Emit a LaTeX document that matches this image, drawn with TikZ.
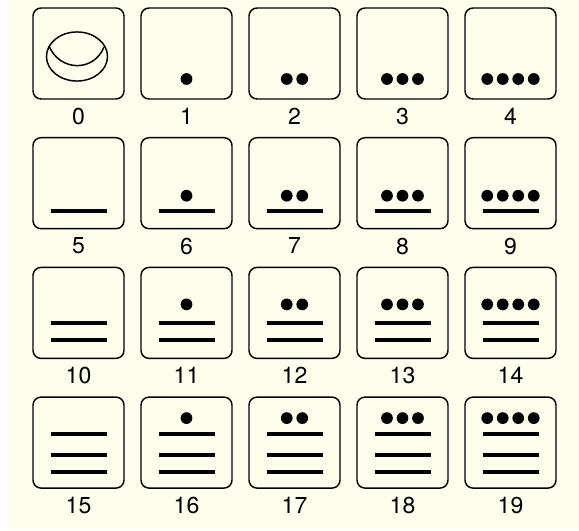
\documentclass[tikz,border=0pt]{standalone}
\usepackage{fontspec}
\setmainfont{TeX Gyre Heros}
\usetikzlibrary{positioning}

\definecolor{cream}{RGB}{255,253,235}

\newcommand*{\colstep}{108}
\newcommand*{\rowstep}{129.7}
\newcommand*{\dotstep}{15.5}

\begin{document}
\begin{tikzpicture}
[
	x=0.75pt, y=-0.75pt,
	numbox/.style={draw,line width=1.1pt,rounded corners=6pt,inner sep=0pt,minimum size=68.25pt},
	numlabel/.style={inner sep=0pt,font=\LARGE},
	bar/.style={line width=3pt},
	pebble/.style={fill=black}
]

	% background
	\useasboundingbox (0,0) rectangle (579,531);
	\fill[cream] (7,0) rectangle (579,529);

	% boxes, labels, bars and dots
	\foreach \r/\dy/\bars in {0/71/{0}, 1/58/{73}, 2/37/{56,73}, 3/21/{37,58,75}} {
		\foreach \c in {0,...,4} {
			\pgfmathtruncatemacro{\n}{5*\r+\c}
			\pgfmathsetmacro{\cx}{78.5+\c*\colstep}
			\pgfmathsetmacro{\ytop}{8+\r*\rowstep}
			\node[numbox] (g\n) at (\cx,\ytop+45.5) {};
			\node[numlabel,below=6pt of g\n] (l\n) {\n};
			\ifnum\r>0
				\foreach \b in \bars {
					\draw[bar] (\cx-28,\ytop+\b) -- (\cx+28,\ytop+\b);
				}
			\fi
			\ifnum\c>0
				\foreach \k in {1,...,\c} {
					\fill[pebble] ({\cx+(\k-(\c+1)/2)*\dotstep},\ytop+\dy) circle[radius=4.4pt];
				}
			\fi
		}
	}

	% zero shell
	\draw[line width=1.1pt] (77,56.5) ellipse[x radius=22.9pt,y radius=18.4pt];
	\draw[line width=1.1pt] (49,46) .. controls (60,72) and (94,72) .. (104,47);

\end{tikzpicture}
\end{document}
